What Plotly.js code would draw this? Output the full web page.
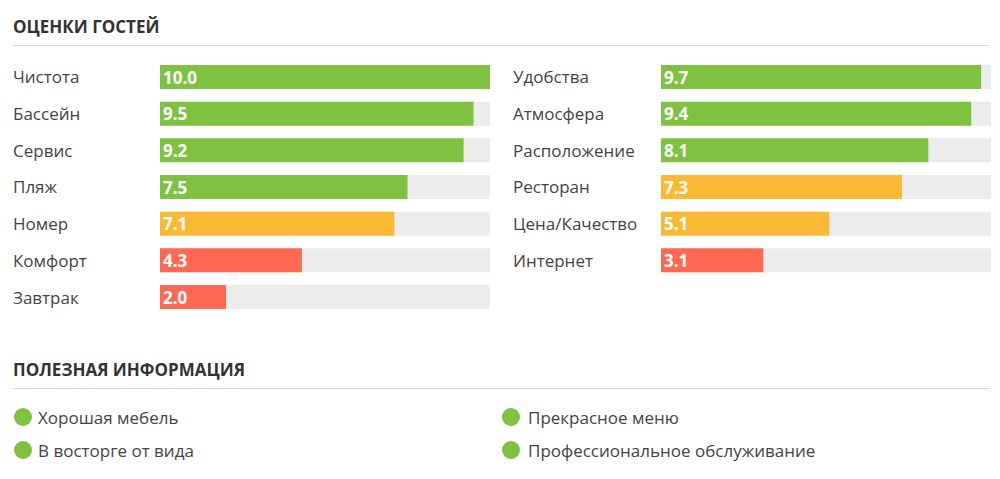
<!DOCTYPE html>
<html>
<head>
<meta charset="utf-8">
<script src="https://cdn.plot.ly/plotly-3.0.1.min.js"></script>
<style>
	body { margin: 0; background: #fff; }
	#chart { width: 1000px; height: 479px; }
</style>
</head>
<body>
<div id="chart"></div>
<script>
// guest scores, left and right columns
var leftCategories = ['Чистота', 'Бассейн', 'Сервис', 'Пляж', 'Номер', 'Комфорт', 'Завтрак'];
var leftScores = [10.0, 9.5, 9.2, 7.5, 7.1, 4.3, 2.0];

var rightCategories = ['Удобства', 'Атмосфера', 'Расположение', 'Ресторан', 'Цена/Качество', 'Интернет'];
var rightScores = [9.7, 9.4, 8.1, 7.3, 5.1, 3.1];

var maxScore = 10;

// useful info bullets
var infoLeft = ['Хорошая мебель', 'В восторге от вида'];
var infoRight = ['Прекрасное меню', 'Профессиональное обслуживание'];

var W = 1000, H = 479;
function px(x) { return x / W; }
function py(y) { return 1 - y / H; }

function scoreColor(v) {
	if (v >= 7.5) return '#7fc241';
	if (v >= 5) return '#fab935';
	return '#ff6853';
}

var textFont = { family : 'Open Sans', size : 17, color : '#444' };
var headFont = { family : 'Open Sans', size : 17, color : '#333', weight : 'bold' };

function makeTraces(cats, scores, xa, ya) {
	var bg = {
		type : 'bar',
		orientation : 'h',
		y : cats,
		x : cats.map(function() { return maxScore; }),
		xaxis : xa,
		yaxis : ya,
		marker : { color : '#ececec' },
		width : 0.655,
		hoverinfo : 'skip',
		textposition : 'none'
	};
	var fg = {
		type : 'bar',
		orientation : 'h',
		y : cats,
		x : scores,
		xaxis : xa,
		yaxis : ya,
		marker : { color : scores.map(scoreColor) },
		width : 0.655,
		text : scores.map(function(v) { return v.toFixed(1); }),
		textposition : 'inside',
		insidetextanchor : 'start',
		constraintext : 'none',
		textfont : { family : 'Open Sans', size : 17, color : '#fff', weight : 'bold' },
		hoverinfo : 'x+y'
	};
	return [bg, fg];
}

var data = makeTraces(leftCategories, leftScores, 'x', 'y')
	.concat(makeTraces(rightCategories, rightScores, 'x2', 'y2'));

var rowTop = 77 - 36.67 / 2;
var rowBottom = 297 + 36.67 / 2;

var annotations = [];
var shapes = [];

function addText(x, y, text, font) {
	annotations.push({
		x : px(x), y : py(y), xref : 'paper', yref : 'paper',
		xanchor : 'left', yanchor : 'middle', showarrow : false,
		text : text,
		font : font || textFont
	});
}

// headers and rules
addText(11, 27, 'ОЦЕНКИ ГОСТЕЙ', headFont);
addText(11, 369, 'ПОЛЕЗНАЯ ИНФОРМАЦИЯ', headFont);
[45.5, 388.5].forEach(function(y) {
	shapes.push({ type : 'line', xref : 'paper', yref : 'paper',
		x0 : px(13), x1 : px(990), y0 : py(y), y1 : py(y),
		line : { color : '#d9d9d9', width : 1 } });
});

// row labels
leftCategories.forEach(function(c) {
	annotations.push({ x : px(11), xref : 'paper', y : c, yref : 'y', xanchor : 'left',
		showarrow : false, text : c, font : textFont });
});
rightCategories.forEach(function(c) {
	annotations.push({ x : px(511), xref : 'paper', y : c, yref : 'y2', xanchor : 'left',
		showarrow : false, text : c, font : textFont });
});

// bullets
function addBullets(items, cx, tx) {
	items.forEach(function(t, i) {
		var cy = 417 + i * 33;
		shapes.push({ type : 'circle', xref : 'paper', yref : 'paper',
			x0 : px(cx - 9), x1 : px(cx + 9), y0 : py(cy + 9), y1 : py(cy - 9),
			fillcolor : '#7fc241', line : { width : 0 } });
		addText(tx, cy, t);
	});
}
addBullets(infoLeft, 23, 36);
addBullets(infoRight, 511, 526);

var axisX = { range : [0, maxScore], showgrid : false, zeroline : false, showticklabels : false, fixedrange : true };
var axisY = { showgrid : false, zeroline : false, showticklabels : false, fixedrange : true };

var layout = {
	width : W,
	height : H,
	margin : { l : 0, r : 0, t : 0, b : 0 },
	paper_bgcolor : '#fff',
	plot_bgcolor : 'rgba(0,0,0,0)',
	showlegend : false,
	barmode : 'overlay',
	xaxis : Object.assign({}, axisX, { domain : [px(160), px(490)], anchor : 'y' }),
	yaxis : Object.assign({}, axisY, { domain : [py(rowBottom), py(rowTop)], range : [6.5, -0.5], anchor : 'x' }),
	xaxis2 : Object.assign({}, axisX, { domain : [px(661), px(991)], anchor : 'y2' }),
	yaxis2 : Object.assign({}, axisY, { domain : [py(rowBottom), py(rowTop)], range : [6.5, -0.5], anchor : 'x2' }),
	annotations : annotations,
	shapes : shapes
};

Plotly.newPlot('chart', data, layout, { displayModeBar : false, staticPlot : true });
</script>
</body>
</html>
